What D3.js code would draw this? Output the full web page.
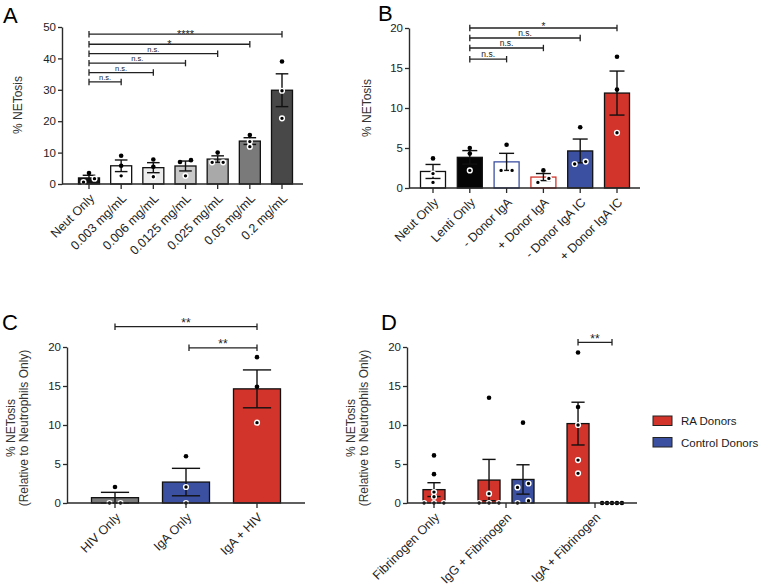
<!DOCTYPE html>
<html><head><meta charset="utf-8">
<script src="https://cdn.jsdelivr.net/npm/d3@7"></script>
<style>body{margin:0;background:#fff}svg{display:block}text{font-family:"Liberation Sans",Arial,sans-serif}</style>
</head><body><svg id="c" width="765" height="585"></svg>
<script>
// ---------- DATA ----------
// Panel A
const aCategories = ["Neut Only","0.003 mg/mL","0.006 mg/mL","0.0125 mg/mL","0.025 mg/mL","0.05 mg/mL","0.2 mg/mL"];
const aPoints = [[3.5,0.6,1.7],[9.0,5.8,2.6],[7.8,5.5,2.3],[7.6,7.0,2.6],[10.0,6.9,6.9],[15.6,13.5,11.9],[39.0,29.7,20.9]];
const aYTicks = [0,10,20,30,40,50];
const aComparisons = [[0,1,"n.s.",32.5],[0,2,"n.s.",35.5],[0,3,"n.s.",38.5],[0,4,"n.s.",41.5],[0,5,"*",44.5],[0,6,"****",47.7]];
// Panel B
const bCategories = ["Neut Only","Lenti Only","- Donor IgA","+ Donor IgA","- Donor IgA IC","+ Donor IgA IC"];
const bPoints = [[3.7,1.8,0.7],[5.0,4.3,2.2],[5.4,2.2,2.2],[2.2,0.7,1.2],[7.6,3.0,3.3],[16.4,12.3,6.9]];
const bYTicks = [0,5,10,15,20];
const bComparisons = [[1,2,"n.s.",16.1],[1,3,"n.s.",17.5],[1,4,"n.s.",18.75],[1,5,"*",20]];
// Panel C
const cCategories = ["HIV Only","IgA Only","IgA + HIV"];
const cPoints = [[2.05,0,0],[6.0,2.05,0],[18.7,14.9,10.3]];
const cYTicks = [0,5,10,15,20];
const cComparisons = [[0,2,"**",22.6],[1,2,"**",19.9]];
// Panel D
const dGroups = ["Fibrinogen Only","IgG + Fibrinogen","IgA + Fibrinogen"];
const dSeries = ["RA Donors","Control Donors"];
const dRAPoints = [[6.1,3.7,1.4,0.8,0,0,0],[13.5,1.2,0,0,0],[19.3,12.3,10.0,5.5,3.8]];
const dControlPoints = [null,[10.3,2.5,2.0,0.3,0],[0,0,0,0,0]];
const dYTicks = [0,5,10,15,20];
const dComparisons = [[2,"**",20.6]];

// ---------- STYLES ----------
const RED = "#d2342b", BLUE = "#3c50a2";
const aFills = ["#161616","#ffffff","#ececec","#c8c8c8","#a9a9a9","#7a7a7a","#484848"];
const bFills = ["#ffffff","#050505","#ffffff","#ffffff",BLUE,RED];
const bStrokes = ["#111","#111",BLUE,RED,"#111","#111"];
const cFills = ["#7b7b7b",BLUE,RED];
const seriesFills = [RED, BLUE];
const AX = "#2a2a2a";

const svg = d3.select("#c");

function yAxis(g, y, x0, ticks){
  const a = g.append("g").attr("transform",`translate(${x0},0)`)
    .call(d3.axisLeft(y).tickValues(ticks).tickSize(4).tickPadding(2).tickSizeOuter(0));
  a.select(".domain").attr("stroke",AX).attr("stroke-width",1.4);
  a.selectAll(".tick line").attr("stroke",AX).attr("stroke-width",1.3);
  a.selectAll(".tick text").attr("fill","#222").style("font-size","11.5px").style("font-family","'Liberation Sans',Arial,sans-serif");
}
function xAxis(g, x0, x1, y0, ticks){
  g.append("line").attr("x1",x0).attr("x2",x1).attr("y1",y0).attr("y2",y0).attr("stroke",AX).attr("stroke-width",1.4);
  ticks.forEach(t=>{
    g.append("line").attr("x1",t.x).attr("x2",t.x).attr("y1",y0).attr("y2",y0+5).attr("stroke",AX).attr("stroke-width",1.3);
    g.append("text").attr("transform",`translate(${t.x+3},${y0+12}) rotate(-45)`)
      .attr("text-anchor","end").attr("dy","0.35em").style("font-size","12.5px").attr("fill","#222").text(t.label);
  });
}
function swarm(vals, y, w){
  const idx = vals.map((v,i)=>i).sort((a,b)=>vals[a]-vals[b]);
  const clusters=[]; let cur=[];
  idx.forEach(i=>{
    if(cur.length && Math.abs(y(vals[i])-y(vals[cur[cur.length-1]]))>4.5){clusters.push(cur);cur=[];}
    cur.push(i);
  });
  if(cur.length) clusters.push(cur);
  const off = new Array(vals.length).fill(0);
  clusters.forEach(c=>{
    const n=c.length; if(n<2) return;
    const step=Math.min(11, w*0.9/(n-1));
    c.forEach((i,k)=>off[i]=(k-(n-1)/2)*step);
  });
  return off;
}
function bar(g, cx, w, pts, y, fill, stroke){
  const m = d3.mean(pts), sem = pts.length>1 ? d3.deviation(pts)/Math.sqrt(pts.length) : 0;
  const y0 = y(0);
  if(m>0){
    g.append("rect").attr("x",cx-w/2).attr("width",w).attr("y",y(m)).attr("height",y0-y(m))
      .attr("fill",fill).attr("stroke",stroke).attr("stroke-width",1.3);
  }
  if(sem>0){
    const lo=Math.max(0,m-sem), hi=m+sem, cw=w*0.6;
    g.append("line").attr("x1",cx).attr("x2",cx).attr("y1",y(lo)).attr("y2",y(hi)).attr("stroke","#111").attr("stroke-width",1.4);
    [lo,hi].forEach(v=>g.append("line").attr("x1",cx-cw/2).attr("x2",cx+cw/2).attr("y1",y(v)).attr("y2",y(v)).attr("stroke","#111").attr("stroke-width",1.4));
  }
  const off = swarm(pts, y, w);
  pts.forEach((v,i)=>{
    const inside = v < m-1e-9;
    g.append("circle").attr("cx",cx+off[i]).attr("cy",y(v)).attr("r",inside?2.4:2.3)
      .attr("fill","#000").attr("stroke",inside?"#fff":"none").attr("stroke-width",1.4);
  });
}
function bracket(g, x1, x2, yy, label, fs, dy){
  g.append("line").attr("x1",x1).attr("x2",x2).attr("y1",yy).attr("y2",yy).attr("stroke","#222").attr("stroke-width",1.3);
  [x1,x2].forEach(x=>g.append("line").attr("x1",x).attr("x2",x).attr("y1",yy-3.2).attr("y2",yy+3.2).attr("stroke","#222").attr("stroke-width",1.3));
  g.append("text").attr("x",(x1+x2)/2).attr("y",yy+dy).attr("text-anchor","middle").style("font-size",fs+"px").attr("fill","#222").text(label);
}
function yTitle(g, cx, cy, lines){
  const t = g.append("text").attr("transform",`translate(${cx},${cy}) rotate(-90)`).attr("text-anchor","middle").style("font-size","12px").attr("fill","#333");
  lines.forEach((l,i)=>t.append("tspan").attr("x",0).attr("dy",i?"1.1em":0).text(l));
}
function letter(x,y,s){ svg.append("text").attr("x",x).attr("y",y).style("font-size","22px").attr("fill","#000").text(s); }

// ---------- PANEL A ----------
{
  const g = svg.append("g");
  const y = d3.scaleLinear().domain([0,50]).range([184,27]);
  const x = d3.scalePoint().domain(aCategories).range([89,282]);
  aCategories.forEach((c,i)=>bar(g, x(c), 21, aPoints[i], y, aFills[i], "#111"));
  yAxis(g, y, 62, aYTicks);
  xAxis(g, 62, 303, 184, aCategories.map(c=>({x:x(c),label:c})));
  aComparisons.forEach(([a,b,l,v])=>{
    const star = l.indexOf("*")===0;
    bracket(g, x(aCategories[a]), x(aCategories[b]), y(v), l, star?11:7.5, star?3.5:-2);
  });
  yTitle(g, 22, 105, ["% NETosis"]);
  letter(3,23,"A");
}
// ---------- PANEL B ----------
{
  const g = svg.append("g");
  const y = d3.scaleLinear().domain([0,20]).range([188,28]);
  const x = d3.scalePoint().domain(bCategories).range([433,617]);
  bCategories.forEach((c,i)=>bar(g, x(c), 25, bPoints[i], y, bFills[i], bStrokes[i]));
  yAxis(g, y, 409, bYTicks);
  xAxis(g, 409, 640, 188, bCategories.map(c=>({x:x(c),label:c})));
  bComparisons.forEach(([a,b,l,v])=>{
    const star = l.indexOf("*")===0;
    bracket(g, x(bCategories[a]), x(bCategories[b]), y(v), l, star?10:8.5, star?2:-2);
  });
  yTitle(g, 371, 108, ["% NETosis"]);
  letter(378,21,"B");
}
// ---------- PANEL C ----------
{
  const g = svg.append("g");
  const y = d3.scaleLinear().domain([0,20]).range([503,347]);
  const x = d3.scalePoint().domain(cCategories).range([115,257]);
  cCategories.forEach((c,i)=>bar(g, x(c), 47, cPoints[i], y, cFills[i], "#111"));
  yAxis(g, y, 67, cYTicks);
  xAxis(g, 67, 305, 503, cCategories.map(c=>({x:x(c),label:c})));
  cComparisons.forEach(([a,b,l,v])=>bracket(g, x(cCategories[a])+(a===1?3:0), x(cCategories[b]), y(v), l, 12, 0.5));
  yTitle(g, 15, 428, ["% NETosis","(Relative to Neutrophils Only)"]);
  letter(2,330,"C");
}
// ---------- PANEL D ----------
{
  const g = svg.append("g");
  const y = d3.scaleLinear().domain([0,20]).range([503,347]);
  const slots=[]; let pos=0; const groupTicks=[];
  dGroups.forEach((grp,gi)=>{
    const start=pos;
    [dRAPoints[gi], dControlPoints[gi]].forEach((pts,si)=>{ if(pts){ slots.push({gi,si,pts,pos}); pos+=1; } });
    groupTicks.push({gi, center:(start+pos-1)/2});
    pos += 0.62;
  });
  const x = d3.scaleLinear().domain([0, slots[slots.length-1].pos]).range([434,612]);
  slots.forEach(s=>bar(g, x(s.pos), 22, s.pts, y, seriesFills[s.si], "#111"));
  yAxis(g, y, 407, dYTicks);
  xAxis(g, 407, 637, 503, groupTicks.map(t=>({x:x(t.center),label:dGroups[t.gi]})));
  dComparisons.forEach(([gi,l,v])=>{
    const ss = slots.filter(s=>s.gi===gi);
    bracket(g, x(ss[0].pos), x(ss[1].pos), y(v), l, 12, 0.5);
  });
  yTitle(g, 355, 428, ["% NETosis","(Relative to Neutrophils Only)"]);
  letter(381,330,"D");
  // legend
  const lg = svg.append("g");
  dSeries.forEach((s,i)=>{
    lg.append("rect").attr("x",653).attr("y",416+i*21.5).attr("width",19).attr("height",9.5).attr("fill",seriesFills[i]).attr("stroke","#222").attr("stroke-width",1);
    lg.append("text").attr("x",681).attr("y",425+i*21.5).style("font-size","11.5px").attr("fill","#1a1a1a").text(s);
  });
}
</script></body></html>
